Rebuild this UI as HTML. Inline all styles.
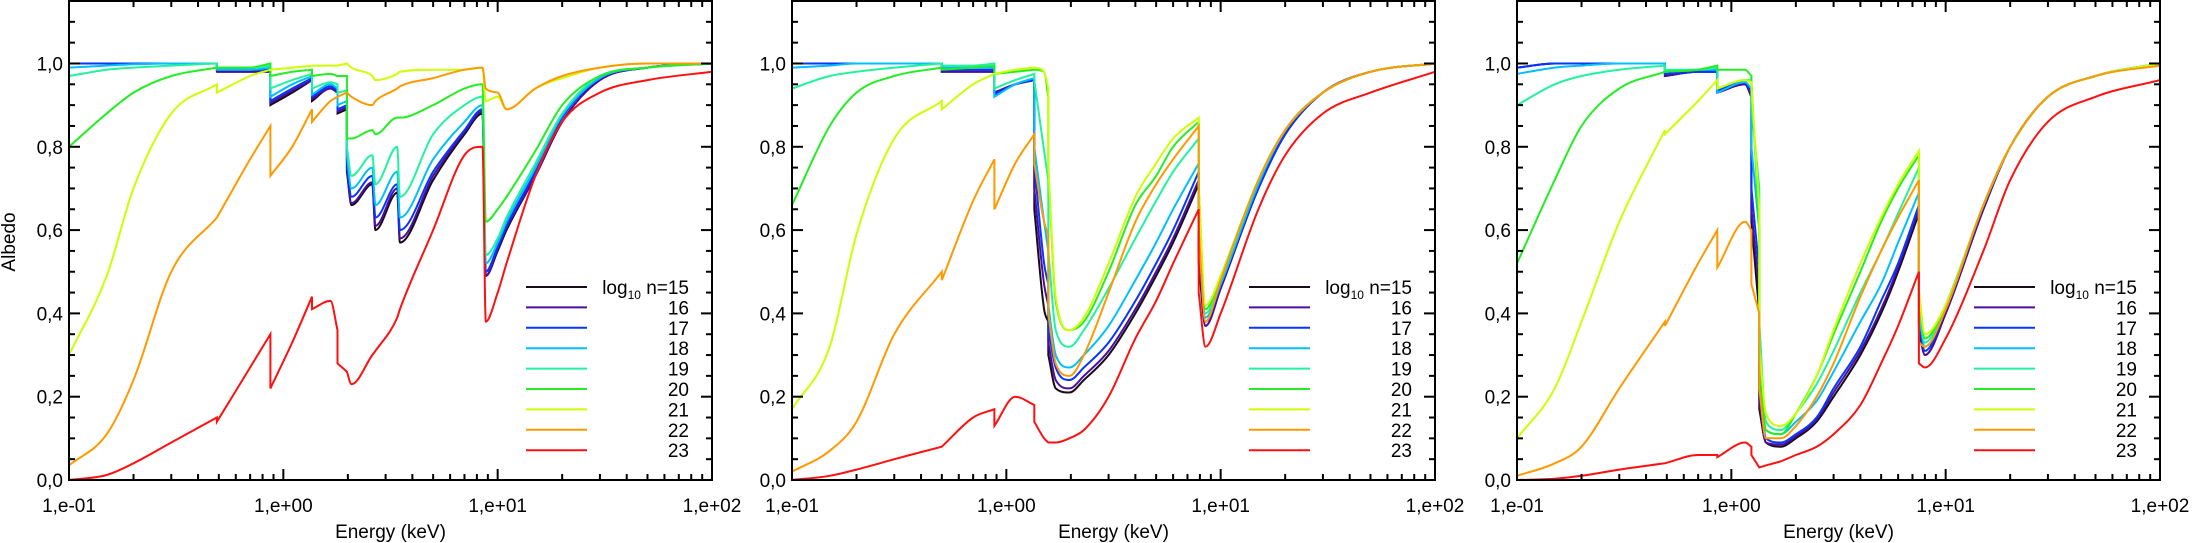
<!DOCTYPE html>
<html><head><meta charset="utf-8">
<style>
html,body{margin:0;padding:0;background:#fff;}
svg{display:block;}
text{font-family:"Liberation Sans",sans-serif;fill:#000;}
</style></head>
<body>
<svg id="fig" width="2195" height="543" viewBox="0 0 2195 543" xmlns="http://www.w3.org/2000/svg"></svg>
<script>
const seriesLabels = ["15","16","17","18","19","20","21","22","23"];
const seriesColors = ["#1a0a1a","#4a0fa0","#0636ff","#00bfff","#22f2a0","#22ee22","#ccff00","#ff9900","#ff1010"];
const yTicks = [0,0.2,0.4,0.6,0.8,1.0];
const yTickLabels = ["0,0","0,2","0,4","0,6","0,8","1,0"];
const xTicks = [0.1,1,10,100];
const xTickLabels = ["1,e-01","1,e+00","1,e+01","1,e+02"];

const energy1 = [0.1,0.15,0.2,0.3,0.49,0.49,0.7,0.87,0.87,1.1,1.36,1.36,1.66,1.79,1.79,1.98,1.98,2.08,2.6,2.69,3.4,3.5,5,7,8.5,8.8,10,11,15,20,30,50,100];
const p1s15 = [1.0,1.0,1.0,1.0,1.0,0.98,0.98,0.98,0.90,0.93,0.96,0.91,0.94,0.93,0.88,0.89,0.74,0.66,0.71,0.60,0.69,0.57,0.72,0.83,0.88,0.49,0.55,0.60,0.73,0.86,0.96,0.99,1.0];
const p1s16 = [1.0,1.0,1.0,1.0,1.0,0.98,0.98,0.98,0.905,0.935,0.96,0.915,0.94,0.93,0.885,0.895,0.745,0.665,0.715,0.61,0.70,0.58,0.73,0.835,0.885,0.49,0.555,0.605,0.73,0.86,0.96,0.99,1.0];
const p1s17 = [1.0,1.0,1.0,1.0,1.0,0.985,0.985,0.985,0.91,0.94,0.965,0.92,0.945,0.935,0.89,0.90,0.76,0.68,0.73,0.63,0.71,0.60,0.74,0.84,0.89,0.50,0.56,0.61,0.74,0.87,0.965,0.99,1.0];
const p1s18 = [0.99,0.995,0.998,1.0,1.0,0.985,0.985,0.99,0.92,0.95,0.97,0.925,0.95,0.94,0.90,0.91,0.78,0.70,0.75,0.66,0.74,0.63,0.77,0.86,0.90,0.52,0.57,0.62,0.75,0.875,0.965,0.99,1.0];
const p1s19 = [0.97,0.985,0.99,0.995,1.0,0.99,0.99,0.995,0.94,0.96,0.975,0.94,0.955,0.95,0.93,0.935,0.80,0.73,0.78,0.71,0.80,0.68,0.83,0.90,0.92,0.54,0.58,0.63,0.76,0.88,0.97,0.99,1.0];
const p1s20 = [0.80,0.88,0.93,0.97,0.99,0.99,0.99,1.0,0.97,0.98,0.985,0.97,0.975,0.97,0.97,0.97,0.82,0.82,0.84,0.83,0.87,0.87,0.90,0.94,0.95,0.62,0.65,0.68,0.79,0.90,0.97,0.99,1.0];
const p1s21 = [0.30,0.49,0.70,0.88,0.95,0.93,0.97,0.985,0.985,0.99,0.995,0.995,0.995,0.995,0.995,1.0,1.0,0.99,0.97,0.96,0.975,0.98,0.985,0.985,0.99,0.91,0.92,0.89,0.94,0.965,0.99,1.0,1.0];
const p1s22 = [0.035,0.11,0.24,0.50,0.63,0.63,0.77,0.85,0.73,0.80,0.89,0.86,0.91,0.92,0.92,0.93,0.93,0.92,0.90,0.91,0.94,0.945,0.965,0.985,0.99,0.94,0.93,0.89,0.94,0.97,0.99,1.0,1.0];
const p1s23 = [0.0,0.012,0.04,0.09,0.15,0.14,0.27,0.35,0.22,0.33,0.44,0.41,0.43,0.36,0.28,0.26,0.26,0.23,0.30,0.31,0.39,0.41,0.60,0.78,0.80,0.38,0.45,0.52,0.73,0.86,0.93,0.96,0.98];

const energy2 = [0.1,0.15,0.2,0.3,0.5,0.5,0.7,0.88,0.88,1.1,1.35,1.35,1.5,1.57,1.57,1.7,1.97,2.3,3,4,5,6,7.9,7.9,8.5,10,15,20,30,50,100];
const p2s15 = [1,1,1,1,1,0.98,0.98,0.98,0.93,0.95,0.96,0.65,0.41,0.38,0.30,0.22,0.21,0.24,0.30,0.40,0.49,0.57,0.71,0.52,0.37,0.46,0.70,0.83,0.93,0.98,1.0];
const p2s16 = [1,1,1,1,1,0.98,0.98,0.98,0.93,0.95,0.96,0.70,0.47,0.42,0.33,0.24,0.22,0.25,0.31,0.41,0.50,0.58,0.72,0.55,0.37,0.46,0.70,0.83,0.93,0.98,1.0];
const p2s17 = [1,1,1,1,1,0.985,0.985,0.985,0.925,0.95,0.96,0.76,0.52,0.47,0.36,0.27,0.24,0.27,0.33,0.43,0.52,0.60,0.74,0.58,0.38,0.47,0.70,0.83,0.93,0.98,1.0];
const p2s18 = [0.99,0.995,1,1,1,0.99,0.99,0.99,0.92,0.95,0.965,0.80,0.62,0.55,0.42,0.30,0.27,0.30,0.37,0.48,0.57,0.65,0.76,0.60,0.39,0.47,0.71,0.84,0.93,0.98,1.0];
const p2s19 = [0.94,0.97,0.98,0.99,1.0,0.995,0.995,1.0,0.94,0.96,0.975,0.96,0.79,0.72,0.55,0.36,0.32,0.36,0.46,0.58,0.67,0.74,0.82,0.70,0.40,0.48,0.72,0.84,0.93,0.98,1.0];
const p2s20 = [0.66,0.85,0.93,0.97,0.99,0.985,0.99,0.995,0.975,0.98,0.985,0.985,0.98,0.92,0.75,0.43,0.36,0.38,0.50,0.66,0.73,0.80,0.86,0.70,0.41,0.49,0.72,0.84,0.93,0.98,1.0];
const p2s21 = [0.17,0.32,0.59,0.82,0.91,0.89,0.95,0.975,0.975,0.985,0.99,0.99,0.98,0.94,0.75,0.44,0.36,0.39,0.52,0.68,0.76,0.82,0.87,0.70,0.42,0.49,0.72,0.84,0.93,0.98,1.0];
const p2s22 = [0.02,0.07,0.14,0.35,0.50,0.48,0.67,0.77,0.65,0.76,0.83,0.76,0.62,0.59,0.40,0.28,0.25,0.30,0.45,0.62,0.71,0.77,0.85,0.60,0.38,0.48,0.72,0.84,0.93,0.98,1.0];
const p2s23 = [0.0,0.01,0.025,0.05,0.08,0.08,0.15,0.17,0.13,0.20,0.18,0.14,0.10,0.09,0.09,0.09,0.10,0.12,0.20,0.34,0.43,0.52,0.65,0.45,0.32,0.40,0.65,0.78,0.88,0.93,0.98];

const energy3 = [0.1,0.15,0.2,0.3,0.49,0.49,0.7,0.86,0.86,1.16,1.24,1.24,1.35,1.35,1.45,1.7,2,2.5,3,4,5,6,7.5,7.5,8,10,15,20,30,50,100];
const p3s15 = [0.99,1,1,1,1,0.97,0.98,0.98,0.93,0.95,0.92,0.62,0.40,0.17,0.09,0.08,0.10,0.14,0.20,0.30,0.40,0.50,0.64,0.36,0.30,0.40,0.65,0.80,0.92,0.97,1.0];
const p3s16 = [0.99,1,1,1,1,0.97,0.98,0.98,0.93,0.95,0.92,0.65,0.45,0.19,0.09,0.085,0.105,0.145,0.21,0.31,0.41,0.51,0.65,0.37,0.30,0.40,0.65,0.80,0.92,0.97,1.0];
const p3s17 = [0.99,1,1,1,1,0.975,0.98,0.98,0.935,0.955,0.93,0.70,0.50,0.23,0.10,0.09,0.11,0.15,0.22,0.32,0.43,0.52,0.66,0.38,0.31,0.41,0.66,0.80,0.92,0.97,1.0];
const p3s18 = [0.975,0.99,0.995,1,1,0.98,0.985,0.985,0.93,0.955,0.94,0.80,0.60,0.28,0.12,0.11,0.14,0.19,0.26,0.38,0.47,0.57,0.69,0.40,0.32,0.41,0.66,0.80,0.92,0.97,1.0];
const p3s19 = [0.90,0.95,0.97,0.985,0.995,0.985,0.985,0.99,0.94,0.96,0.96,0.90,0.70,0.38,0.14,0.12,0.16,0.23,0.31,0.45,0.55,0.64,0.75,0.42,0.33,0.42,0.66,0.80,0.92,0.97,1.0];
const p3s20 = [0.52,0.72,0.85,0.94,0.98,0.98,0.985,0.995,0.985,0.985,0.97,0.96,0.60,0.29,0.12,0.11,0.16,0.25,0.35,0.50,0.62,0.70,0.78,0.45,0.34,0.42,0.66,0.80,0.92,0.97,1.0];
const p3s21 = [0.10,0.22,0.38,0.62,0.84,0.83,0.91,0.96,0.94,0.96,0.955,0.95,0.65,0.32,0.16,0.13,0.16,0.25,0.36,0.52,0.63,0.71,0.79,0.45,0.35,0.42,0.66,0.80,0.92,0.97,1.0];
const p3s22 = [0.01,0.04,0.08,0.22,0.38,0.37,0.52,0.60,0.51,0.62,0.60,0.47,0.40,0.22,0.10,0.10,0.13,0.20,0.28,0.44,0.55,0.63,0.72,0.33,0.32,0.41,0.66,0.80,0.92,0.97,0.995];
const p3s23 = [0,0.003,0.01,0.025,0.04,0.04,0.06,0.06,0.055,0.09,0.08,0.06,0.03,0.03,0.035,0.045,0.06,0.08,0.11,0.18,0.28,0.37,0.50,0.28,0.27,0.34,0.55,0.72,0.86,0.92,0.96];

const panels = [
  {name:"panel-1", left:69, energy:energy1, series:[p1s15,p1s16,p1s17,p1s18,p1s19,p1s20,p1s21,p1s22,p1s23], ylabel:true},
  {name:"panel-2", left:792, energy:energy2, series:[p2s15,p2s16,p2s17,p2s18,p2s19,p2s20,p2s21,p2s22,p2s23], ylabel:false},
  {name:"panel-3", left:1517, energy:energy3, series:[p3s15,p3s16,p3s17,p3s18,p3s19,p3s20,p3s21,p3s22,p3s23], ylabel:false}
];

const NS = "http://www.w3.org/2000/svg";
const svg = document.getElementById("fig");
const W = 643, TOP = 1, BOT = 480, YMAX = 1.15;
function mk(tag, attrs, parent){const e=document.createElementNS(NS,tag);for(const k in attrs)e.setAttribute(k,attrs[k]);parent.appendChild(e);return e;}

// monotone cubic path through pixel points; duplicate x -> vertical jump
function monoPath(pts){
  const segs=[]; let cur=[pts[0]];
  for(let i=1;i<pts.length;i++){
    if(Math.abs(pts[i][0]-cur[cur.length-1][0])<0.01){segs.push(cur);cur=[pts[i]];}
    else cur.push(pts[i]);
  }
  segs.push(cur);
  let d="";
  segs.forEach((s,si)=>{
    d += (si===0?"M":"L") + s[0][0].toFixed(1)+" "+s[0][1].toFixed(1);
    const n=s.length; if(n<2) return;
    const m=[]; for(let i=0;i<n-1;i++) m.push((s[i+1][1]-s[i][1])/(s[i+1][0]-s[i][0]));
    const t=[]; t[0]=m[0]; t[n-1]=m[n-2];
    for(let i=1;i<n-1;i++){ t[i]=(m[i-1]*m[i]<=0)?0:(m[i-1]+m[i])/2; }
    for(let i=0;i<n-1;i++){
      if(m[i]===0){t[i]=0;t[i+1]=0;continue;}
      const a=t[i]/m[i], b=t[i+1]/m[i], h=a*a+b*b;
      if(h>9){const k=3/Math.sqrt(h);t[i]=k*a*m[i];t[i+1]=k*b*m[i];}
    }
    for(let i=0;i<n-1;i++){
      const h=(s[i+1][0]-s[i][0])/3;
      d+="C"+(s[i][0]+h).toFixed(1)+" "+(s[i][1]+t[i]*h).toFixed(1)+" "+(s[i+1][0]-h).toFixed(1)+" "+(s[i+1][1]-t[i+1]*h).toFixed(1)+" "+s[i+1][0].toFixed(1)+" "+s[i+1][1].toFixed(1);
    }
  });
  return d;
}

panels.forEach((p, pi) => {
  const g = mk("g", {}, svg);
  
  
  const xs = e => p.left + (Math.log10(e) + 1) / 3 * W;
  const ys = v => BOT - v / YMAX * (BOT - TOP);

  p.series.forEach((vals, si) => {
    const pts = vals.map((v, i) => [xs(p.energy[i]), ys(v)]);
    const path = mk("path", {d:monoPath(pts), fill:"none", stroke:seriesColors[si], "stroke-width":2}, g);
    
    
  });

  const frame = mk("rect", {x:p.left, y:TOP, width:W, height:BOT-TOP, fill:"none", stroke:"#000", "stroke-width":2}, g);
  
  

  for (let k = 0; k <= 23; k++) {
    const v = k * 0.05; const y = ys(v);
    const len = (k % 4 === 0) ? 11 : 6;
    mk("line", {x1:p.left, x2:p.left+len, y1:y, y2:y, stroke:"#000", "stroke-width":2}, g);
    mk("line", {x1:p.left+W, x2:p.left+W-len, y1:y, y2:y, stroke:"#000", "stroke-width":2}, g);
  }
  yTicks.forEach((v, i) => {
    const t = mk("text", {x:p.left-6, y:ys(v)+7, "text-anchor":"end", "font-size":19}, g);
    t.textContent = yTickLabels[i];
    
    
  });
  for (let dec = -1; dec < 2; dec++) {
    for (let m = 1; m <= 9; m++) {
      const e = m * Math.pow(10, dec); const x = xs(e);
      const len = m === 1 ? 11 : 6;
      mk("line", {x1:x, x2:x, y1:BOT, y2:BOT-len, stroke:"#000", "stroke-width":2}, g);
      mk("line", {x1:x, x2:x, y1:TOP, y2:TOP+len, stroke:"#000", "stroke-width":2}, g);
    }
  }
  xTicks.forEach((e, i) => {
    const t = mk("text", {x:xs(e), y:512, "text-anchor":"middle", "font-size":19}, g);
    t.textContent = xTickLabels[i];
    
    
  });
  const xt = mk("text", {x:p.left+W/2, y:538, "text-anchor":"middle", "font-size":19}, g);
  xt.textContent = "Energy (keV)";
  
  
  if (p.ylabel) {
    const yt = mk("text", {x:0, y:0, "text-anchor":"middle", "font-size":19, transform:"translate(15,242) rotate(-90)"}, g);
    yt.textContent = "Albedo";
    
    
  }
  const lg = mk("g", {}, g);
  
  
  seriesLabels.forEach((lab, si) => {
    const y = 287 + si * 20.4;
    const ln = mk("line", {x1:p.left+457, x2:p.left+518, y1:y, y2:y, stroke:seriesColors[si], "stroke-width":2}, lg);
    
    
    const t = mk("text", {x:p.left+620, y:y+7, "text-anchor":"end", "font-size":19}, lg);
    if (si === 0) {
      t.innerHTML = 'log<tspan font-size="12" dy="5">10</tspan><tspan dy="-5"> n=15</tspan>';
    } else {
      t.textContent = lab;
    }
    
    
  });
});
</script>
</body></html>
